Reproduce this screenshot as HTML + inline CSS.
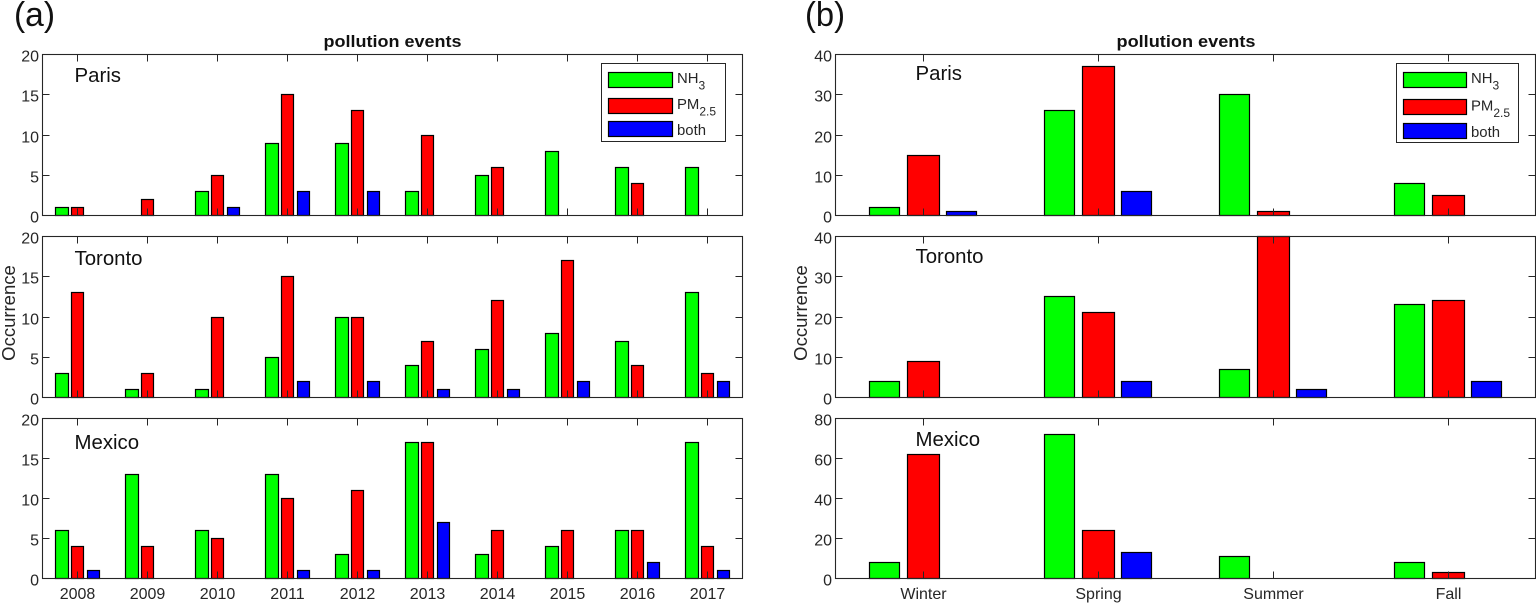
<!DOCTYPE html>
<html lang="en">
<head>
<meta charset="utf-8">
<title>Pollution events by year and season</title>
<style>
html,body{margin:0;padding:0;background:#fff;width:1536px;height:603px;overflow:hidden}
svg{display:block;font-family:"Liberation Sans",Arial,sans-serif}
.tick-label{font-size:16px;fill:#262626}
.city{font-size:20.4px;fill:#111}
.legend-text{font-size:14.9px;fill:#262626}
.sub{font-size:12px}
.title{font-size:16.5px;font-weight:bold;fill:#111}
.ylabel{font-size:18.5px;fill:#262626}
.panel-tag{font-size:34px;fill:#111}
</style>
</head>
<body>
<svg id="figure" width="1536" height="603" viewBox="0 0 1536 603" xmlns="http://www.w3.org/2000/svg">
  <g id="plots"></g>

  <text class="panel-tag" x="14" y="26" textLength="41" lengthAdjust="spacingAndGlyphs">(a)</text>
  <text class="panel-tag" x="805" y="26" textLength="40" lengthAdjust="spacingAndGlyphs">(b)</text>

  <text class="title" x="323.5" y="47" textLength="138" lengthAdjust="spacingAndGlyphs">pollution events</text>
  <text class="title" x="1116.5" y="47" textLength="139" lengthAdjust="spacingAndGlyphs">pollution events</text>

  <text class="ylabel" transform="translate(15 313) rotate(-90)" text-anchor="middle">Occurrence</text>
  <text class="ylabel" transform="translate(807 313) rotate(-90)" text-anchor="middle">Occurrence</text>

  <g>
    <rect x="601.5" y="63.5" width="124" height="78" fill="#fff" stroke="#262626" stroke-width="1"/>
    <rect x="608.5" y="72.5" width="64" height="15" fill="#00ff00" stroke="#000" stroke-width="1.2"/>
    <rect x="608.5" y="98.5" width="64" height="15" fill="#ff0000" stroke="#000" stroke-width="1.2"/>
    <rect x="608.5" y="121.5" width="64" height="15" fill="#0000ff" stroke="#000" stroke-width="1.2"/>
    <text class="legend-text" x="677" y="83">NH<tspan class="sub" dy="6.5">3</tspan></text>
    <text class="legend-text" x="677" y="109">PM<tspan class="sub" dy="6.5">2.5</tspan></text>
    <text class="legend-text" x="677" y="135">both</text>
  </g>

  <g>
    <rect x="1396.5" y="63.5" width="122" height="79" fill="#fff" stroke="#262626" stroke-width="1"/>
    <rect x="1403.5" y="72.5" width="63" height="15" fill="#00ff00" stroke="#000" stroke-width="1.2"/>
    <rect x="1403.5" y="99.5" width="63" height="15" fill="#ff0000" stroke="#000" stroke-width="1.2"/>
    <rect x="1403.5" y="123.5" width="63" height="15" fill="#0000ff" stroke="#000" stroke-width="1.2"/>
    <text class="legend-text" x="1471" y="83">NH<tspan class="sub" dy="6.5">3</tspan></text>
    <text class="legend-text" x="1471" y="110.5">PM<tspan class="sub" dy="6.5">2.5</tspan></text>
    <text class="legend-text" x="1471" y="137">both</text>
  </g>
</svg>

<script>
// Categories
const years = ['2008','2009','2010','2011','2012','2013','2014','2015','2016','2017'];
const seasons = ['Winter','Spring','Summer','Fall'];

// Chart (a): yearly counts
const parisYearNH3 = [1,0,3,9,9,3,5,8,6,6];
const parisYearPM = [1,2,5,15,13,10,6,0,4,0];
const parisYearBoth = [0,0,1,3,3,0,0,0,0,0];
const torontoYearNH3 = [3,1,1,5,10,4,6,8,7,13];
const torontoYearPM = [13,3,10,15,10,7,12,17,4,3];
const torontoYearBoth = [0,0,0,2,2,1,1,2,0,2];
const mexicoYearNH3 = [6,13,6,13,3,17,3,4,6,17];
const mexicoYearPM = [4,4,5,10,11,17,6,6,6,4];
const mexicoYearBoth = [1,0,0,1,1,7,0,0,2,1];

// Chart (b): seasonal counts
const parisSeasonNH3 = [2,26,30,8];
const parisSeasonPM = [15,37,1,5];
const parisSeasonBoth = [1,6,0,0];
const torontoSeasonNH3 = [4,25,7,23];
const torontoSeasonPM = [9,21,40,24];
const torontoSeasonBoth = [0,4,2,4];
const mexicoSeasonNH3 = [8,72,11,8];
const mexicoSeasonPM = [62,24,0,3];
const mexicoSeasonBoth = [0,13,0,0];

// Tick labels
const yearTicks = [0,5,10,15,20];
const seasonTicks40 = [0,10,20,30,40];
const seasonTicks80 = [0,20,40,60,80];

const SVG_NS = 'http://www.w3.org/2000/svg';
const plots = document.getElementById('plots');

function make(tag, attrs, parent) {
  const el = document.createElementNS(SVG_NS, tag);
  for (const k in attrs) el.setAttribute(k, attrs[k]);
  parent.appendChild(el);
  return el;
}

function drawPanel(cfg) {
  const g = make('g', {}, plots);
  
  

  const x0 = cfg.left, x1 = cfg.left + 700;
  const yBase = cfg.bottom, yTop = cfg.top;
  const n = cfg.categories.length;
  const xScale = function (v) { return x0 + (v + 0.5) * 700 / n; };
  const yMax = cfg.yTicks[cfg.yTicks.length - 1];
  const yScale = function (v) { return yBase - v / yMax * (yBase - yTop); };
  const unit = 700 / n;
  const snap = function (v) { return Math.round(v - 0.5) + 0.5; };
  const blueOffset = n === 10 ? 0.2225 : 0.22;
  const blueWidth = n === 10 ? 0.172 : 0.175;

  const bars = [
    { key: 'nh3', values: cfg.nh3, color: '#00ff00', offset: -0.22, width: 0.175 },
    { key: 'pm25', values: cfg.pm, color: '#ff0000', offset: 0.001, width: 0.183 },
    { key: 'both', values: cfg.both, color: '#0000ff', offset: blueOffset, width: blueWidth }
  ];

  bars.forEach(function (s) {
    s.values.forEach(function (val, i) {
      if (val <= 0) return;
      const left = snap(xScale(i) + (s.offset - s.width / 2) * unit);
      const right = snap(xScale(i) + (s.offset + s.width / 2) * unit);
      const top = snap(yScale(val));
      const rect = make('rect', {
        x: left, y: top, width: right - left, height: yBase - top,
        fill: s.color, stroke: '#000', 'stroke-width': 1.2
      }, g);
      
      
    });
  });

  const frame = make('rect', {
    x: x0, y: yTop, width: 700, height: yBase - yTop,
    fill: 'none', stroke: '#262626', 'stroke-width': 1.1
  }, g);
  
  

  cfg.categories.forEach(function (c, i) {
    const px = snap(xScale(i));
    const tb = make('line', { x1: px, x2: px, y1: yBase, y2: yBase - 7, stroke: '#262626' }, g);
    
    
    const tt = make('line', { x1: px, x2: px, y1: yTop, y2: yTop + 7, stroke: '#262626' }, g);
    
    
    if (cfg.showX) {
      const lab = make('text', { x: px, y: 599, 'text-anchor': 'middle', class: 'tick-label' }, g);
      
      
      lab.textContent = c;
    }
  });

  cfg.yTicks.forEach(function (t) {
    const py = snap(yScale(t));
    if (t > 0 && t < yMax) {
      const tl = make('line', { x1: x0, x2: x0 + 7, y1: py, y2: py, stroke: '#262626' }, g);
      
      
      const tr = make('line', { x1: x1, x2: x1 - 7, y1: py, y2: py, stroke: '#262626' }, g);
      
      
    }
    const lab = make('text', { x: x0 - 3.5, y: py + 7, 'text-anchor': 'end', class: 'tick-label' }, g);
    
    
    lab.textContent = t;
  });

  const city = make('text', { x: cfg.labelX, y: cfg.labelY, class: 'city' }, g);
  
  
  city.textContent = cfg.city;
}

drawPanel({ id:'a-paris', city:'Paris', left:42.5, top:54.5, bottom:215.5, labelX:74.5, labelY:82, categories:years, yTicks:yearTicks, nh3:parisYearNH3, pm:parisYearPM, both:parisYearBoth, showX:false });
drawPanel({ id:'a-toronto', city:'Toronto', left:42.5, top:236.5, bottom:397.5, labelX:74.5, labelY:265, categories:years, yTicks:yearTicks, nh3:torontoYearNH3, pm:torontoYearPM, both:torontoYearBoth, showX:false });
drawPanel({ id:'a-mexico', city:'Mexico', left:42.5, top:418.5, bottom:578.5, labelX:74.5, labelY:449, categories:years, yTicks:yearTicks, nh3:mexicoYearNH3, pm:mexicoYearPM, both:mexicoYearBoth, showX:true });
drawPanel({ id:'b-paris', city:'Paris', left:835.5, top:54.5, bottom:215.5, labelX:915.5, labelY:80, categories:seasons, yTicks:seasonTicks40, nh3:parisSeasonNH3, pm:parisSeasonPM, both:parisSeasonBoth, showX:false });
drawPanel({ id:'b-toronto', city:'Toronto', left:835.5, top:236.5, bottom:397.5, labelX:915.5, labelY:263, categories:seasons, yTicks:seasonTicks40, nh3:torontoSeasonNH3, pm:torontoSeasonPM, both:torontoSeasonBoth, showX:false });
drawPanel({ id:'b-mexico', city:'Mexico', left:835.5, top:418.5, bottom:578.5, labelX:915.5, labelY:446, categories:seasons, yTicks:seasonTicks80, nh3:mexicoSeasonNH3, pm:mexicoSeasonPM, both:mexicoSeasonBoth, showX:true });
</script>
</body>
</html>
